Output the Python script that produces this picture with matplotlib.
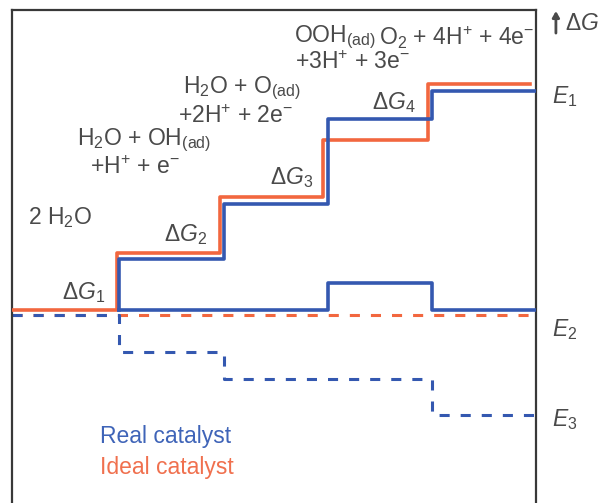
import matplotlib
matplotlib.use("Agg")
import matplotlib.pyplot as plt

plt.rcParams["font.family"] = ["Liberation Sans", "DejaVu Sans"]
plt.rcParams["mathtext.fontset"] = "custom"
plt.rcParams["mathtext.rm"] = "Liberation Sans"
plt.rcParams["mathtext.it"] = "Liberation Sans:italic"
plt.rcParams["mathtext.bf"] = "Liberation Sans:bold"

# Free-energy levels (eV) of the four OER intermediates
ideal_x = [0, 1.00, 1.985, 2.97, 3.97, 4.94]
ideal_levels = [0.0, 1.23, 2.46, 3.69, 4.92]

real_x = [1.02, 2.02, 3.02, 4.01, 5.0]
real_levels = [1.11, 2.30, 4.15, 4.76]

# Per-step overpotential (solid) and cumulative loss (dashed) for the real catalyst
over_levels = [0.0, 0.0, 0.59, 0.0]
loss_x = [0, 1.02, 2.02, 3.02, 4.01, 5.0]
loss_levels = [-0.11, -0.91, -1.50, -1.50, -2.28]
ideal_loss_level = -0.11

BLUE = "#3458b0"
ORANGE = "#f2673f"
GRAY = "#4a4a4a"

fig = plt.figure(figsize=(5.99, 5.03), dpi=100)
ax = fig.add_axes([12 / 599, 0.0, 524 / 599, 493 / 503])
ax.set_xlim(0, 5)
ax.set_ylim(-4.196, 6.522)
ax.set_xticks([])
ax.set_yticks([])
for side in ("left", "top", "right"):
    ax.spines[side].set_linewidth(1.6)
    ax.spines[side].set_color("#383838")
ax.spines["bottom"].set_visible(False)

# dashed reference lines
DASH = (3.3, 3.6)
ax.plot([0, 5], [ideal_loss_level, ideal_loss_level], color=ORANGE, lw=2.2,
        dashes=DASH, zorder=2)
ax.step(loss_x, loss_levels + [loss_levels[-1]], where="post", color=BLUE, lw=2.2,
        dashes=DASH, zorder=2)

# ideal staircase
ax.step(ideal_x, ideal_levels + [ideal_levels[-1]], where="post", color=ORANGE,
        lw=2.6, zorder=3)

# real staircase, starting at the first step
ax.step([real_x[0]] + real_x, [0.0] + real_levels + [real_levels[-1]], where="post",
        color=BLUE, lw=2.6, zorder=4)
ax.step(real_x, over_levels + [over_levels[-1]], where="post", color=BLUE, lw=2.6,
        zorder=4)

fs = 16.5
def label(x, y, s, **kw):
    kw.setdefault("color", GRAY)
    kw.setdefault("fontsize", fs)
    kw.setdefault("ha", "center")
    kw.setdefault("va", "center")
    ax.text(x, y, s, clip_on=False, **kw)

AD = r"$_{\mathregular{(ad)}}$"
label(0.463, 2.02, r"2 H$_2$O")
label(1.264, 3.70, r"H$_2$O + OH" + AD)
label(1.17, 3.09, r"+H$^{+}$ + e$^{-}$")
label(2.19, 4.83, r"H$_2$O + O" + AD)
label(2.13, 4.20, r"+2H$^{+}$ + 2e$^{-}$")
label(3.08, 5.93, r"OOH" + AD)
label(3.25, 5.39, r"+3H$^{+}$ + 3e$^{-}$")
label(4.24, 5.93, r"O$_2$ + 4H$^{+}$ + 4e$^{-}$")

label(0.68, 0.39, r"$\Delta \mathit{G}_1$")
label(1.66, 1.63, r"$\Delta \mathit{G}_2$")
label(2.67, 2.87, r"$\Delta \mathit{G}_3$")
label(3.64, 4.52, r"$\Delta \mathit{G}_4$")

label(5.27, 4.63, r"$\mathit{E}_1$")
label(5.27, -0.43, r"$\mathit{E}_2$")
label(5.27, -2.39, r"$\mathit{E}_3$")

label(0.84, -2.76, "Real catalyst", color="#3f64b8", ha="left")
label(0.84, -3.43, "Ideal catalyst", color="#f0704e", ha="left")

# energy axis arrow
ax.annotate("", xy=(5.19, 6.50), xytext=(5.19, 6.02), annotation_clip=False,
            arrowprops=dict(arrowstyle="-|>,head_length=0.35,head_width=0.2",
                            lw=2.0, color=GRAY, shrinkA=0, shrinkB=0))
label(5.44, 6.23, r"$\Delta \mathit{G}$", fontsize=16.5)

fig.savefig("out.png", dpi=100)
